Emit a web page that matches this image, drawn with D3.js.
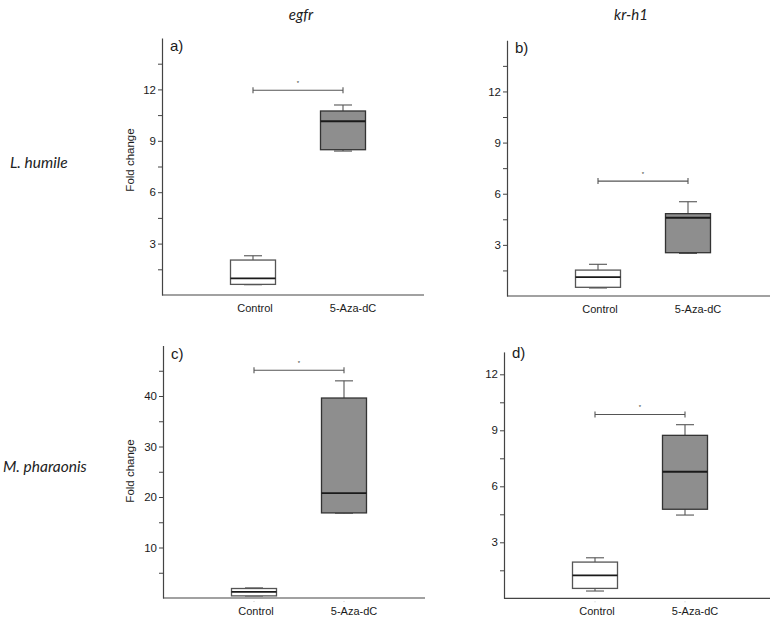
<!DOCTYPE html>
<html>
<head>
<meta charset="utf-8">
<script src="https://cdn.jsdelivr.net/npm/d3@7"></script>
<style>
  body { margin: 0; background: #fff; }
  svg { display: block; }
</style>
</head>
<body>
<svg id="chart" width="781" height="621"></svg>
<script>
// ---------- data ----------
const genes = ["egfr", "kr-h1"];
const species = ["L. humile", "M. pharaonis"];
const categories = ["Control", "5-Aza-dC"];
const panelLabels = ["a)", "b)", "c)", "d)"];

// box statistics per panel: [Control, 5-Aza-dC]
const whiskerLow  = [[0.60, 8.40], [0.47, 2.50], [0.40, 16.8], [0.39, 4.46]];
const q1          = [[0.62, 8.48], [0.51, 2.54], [0.42, 16.85], [0.53, 4.77]];
const median      = [[0.97, 10.14], [1.11, 4.59], [1.20, 20.75], [1.23, 6.78]];
const q3          = [[2.04, 10.74], [1.52, 4.83], [1.88, 39.6], [1.94, 8.73]];
const whiskerHigh = [[2.29, 11.09], [1.86, 5.53], [2.00, 43.0], [2.17, 9.30]];
const bracketY    = [11.95, 6.74, 45.1, 9.85];

const yMax = [15, 15, 50, 13.2];
const yTickValues = [
  [1.5, 3, 4.5, 6, 7.5, 9, 10.5, 12, 13.5],
  [1.5, 3, 4.5, 6, 7.5, 9, 10.5, 12, 13.5],
  [5, 10, 15, 20, 25, 30, 35, 40, 45],
  [1.5, 3, 4.5, 6, 7.5, 9, 10.5, 12]
];
const yTickLabels = [
  [3, 6, 9, 12],
  [3, 6, 9, 12],
  [10, 20, 30, 40],
  [3, 6, 9, 12]
];
const showYTitle = [true, false, true, false];
const yTitle = "Fold change";

// ---------- layout ----------
const layout = [
  { x0: 162, y0: 295,   yTop: 38,    w: 262, titleY: 160 },
  { x0: 507, y0: 296,   yTop: 40.3,  w: 263, titleY: 160 },
  { x0: 163, y0: 598,   yTop: 345.5, w: 262, titleY: 471 },
  { x0: 504, y0: 598.3, yTop: 351.9, w: 266, titleY: 471 }
];

const svg = d3.select("#chart");
const fillColors = ["#ffffff", "#8e8e8e"];
const boxW = 45, capW = 18;

// column & row headers
svg.selectAll("text.gene").data(genes).join("text")
  .attr("class", "gene")
  .attr("x", (d, i) => [301, 631][i])
  .attr("y", 20)
  .attr("text-anchor", "middle")
  .style("font-family", "Lato, 'Open Sans', sans-serif")
  .style("font-style", "italic")
  .style("font-size", "15px")
  .style("fill", "#222")
  .text(d => d);

svg.selectAll("text.species").data(species).join("text")
  .attr("class", "species")
  .attr("x", (d, i) => [10, 3][i])
  .attr("y", (d, i) => [168, 472][i])
  .style("font-family", "Lato, 'Open Sans', sans-serif")
  .style("font-style", "italic")
  .style("font-size", "15.5px")
  .style("fill", "#222")
  .text(d => d);

panelLabels.forEach((lab, p) => {
  const L = layout[p];
  const g = svg.append("g");
  const y = d3.scaleLinear().domain([0, yMax[p]]).range([L.y0, L.yTop]);
  const x = d3.scalePoint().domain(categories).range([L.x0 + 91, L.x0 + 181]);

  // y axis
  const labels = new Set(yTickLabels[p]);
  const ax = g.append("g")
    .attr("transform", `translate(${L.x0},0)`)
    .call(d3.axisLeft(y)
      .tickValues(yTickValues[p])
      .tickSize(4)
      .tickSizeOuter(0)
      .tickPadding(2)
      .tickFormat(d => labels.has(d) ? d : ""));
  ax.select(".domain").attr("stroke", "#444").attr("stroke-width", 1.2);
  ax.selectAll(".tick line").attr("stroke", "#444");
  ax.selectAll(".tick text")
    .style("font-family", "'Liberation Sans', Arial, sans-serif")
    .style("font-size", "11.5px")
    .style("fill", "#1a1a1a");

  // x axis line
  g.append("line")
    .attr("x1", L.x0).attr("x2", L.x0 + L.w)
    .attr("y1", L.y0).attr("y2", L.y0)
    .attr("stroke", "#444").attr("stroke-width", 1.2);

  // faint category ticks for lower panels
  if (p >= 2) {
    g.selectAll("line.xt").data(categories).join("line")
      .attr("x1", d => x(d)).attr("x2", d => x(d))
      .attr("y1", L.y0 + 3).attr("y2", L.y0 + 4)
      .attr("stroke", "#ccc");
  }

  // category labels
  g.selectAll("text.cat").data(categories).join("text")
    .attr("x", (d, i) => x(d) + [2, 10][i])
    .attr("y", L.y0 + 17)
    .attr("text-anchor", "middle")
    .style("font-family", "'Liberation Sans', Arial, sans-serif")
    .style("font-size", "11px")
    .style("fill", "#1a1a1a")
    .text(d => d);

  // y title
  if (showYTitle[p]) {
    g.append("text")
      .attr("transform", `translate(134,${L.titleY}) rotate(-90)`)
      .attr("text-anchor", "middle")
      .style("font-family", "'Liberation Sans', Arial, sans-serif")
      .style("font-size", "11.5px")
      .style("fill", "#1a1a1a")
      .text(yTitle);
  }

  // panel label
  g.append("text")
    .attr("x", L.x0 + 8)
    .attr("y", L.yTop + (p === 3 ? 6 : 13))
    .style("font-family", "'Liberation Sans', Arial, sans-serif")
    .style("font-size", "15px")
    .style("fill", "#1a1a1a")
    .text(lab);

  // boxes
  categories.forEach((c, i) => {
    const cx = x(c);
    // whiskers
    g.append("line")
      .attr("x1", cx).attr("x2", cx)
      .attr("y1", y(whiskerHigh[p][i])).attr("y2", y(q3[p][i]))
      .attr("stroke", "#555").attr("stroke-width", 1.1);
    g.append("line")
      .attr("x1", cx - capW / 2).attr("x2", cx + capW / 2)
      .attr("y1", y(whiskerHigh[p][i])).attr("y2", y(whiskerHigh[p][i]))
      .attr("stroke", "#555").attr("stroke-width", 1.1);
    g.append("line")
      .attr("x1", cx).attr("x2", cx)
      .attr("y1", y(q1[p][i])).attr("y2", y(whiskerLow[p][i]))
      .attr("stroke", "#555").attr("stroke-width", 1.1);
    g.append("line")
      .attr("x1", cx - capW / 2).attr("x2", cx + capW / 2)
      .attr("y1", y(whiskerLow[p][i])).attr("y2", y(whiskerLow[p][i]))
      .attr("stroke", "#555").attr("stroke-width", 1.1);
    // box
    g.append("rect")
      .attr("x", cx - boxW / 2)
      .attr("y", y(q3[p][i]))
      .attr("width", boxW)
      .attr("height", y(q1[p][i]) - y(q3[p][i]))
      .attr("fill", fillColors[i])
      .attr("stroke", i === 0 ? "#555" : "#333")
      .attr("stroke-width", 1.3);
    // median
    g.append("line")
      .attr("x1", cx - boxW / 2).attr("x2", cx + boxW / 2)
      .attr("y1", y(median[p][i])).attr("y2", y(median[p][i]))
      .attr("stroke", "#1a1a1a").attr("stroke-width", 1.8);
  });

  // significance bracket
  const by = y(bracketY[p]);
  const bx1 = x(categories[0]), bx2 = x(categories[1]);
  g.append("line").attr("x1", bx1).attr("x2", bx2).attr("y1", by).attr("y2", by)
    .attr("stroke", "#555").attr("stroke-width", 1.1);
  [bx1, bx2].forEach(bx => {
    g.append("line").attr("x1", bx).attr("x2", bx).attr("y1", by - 3).attr("y2", by + 3)
      .attr("stroke", "#555").attr("stroke-width", 1.1);
  });
  g.append("text")
    .attr("x", (bx1 + bx2) / 2)
    .attr("y", by - 5)
    .attr("text-anchor", "middle")
    .style("font-family", "'Liberation Sans', Arial, sans-serif")
    .style("font-size", "6px")
    .style("fill", "#333")
    .text("*");
});
</script>
</body>
</html>
